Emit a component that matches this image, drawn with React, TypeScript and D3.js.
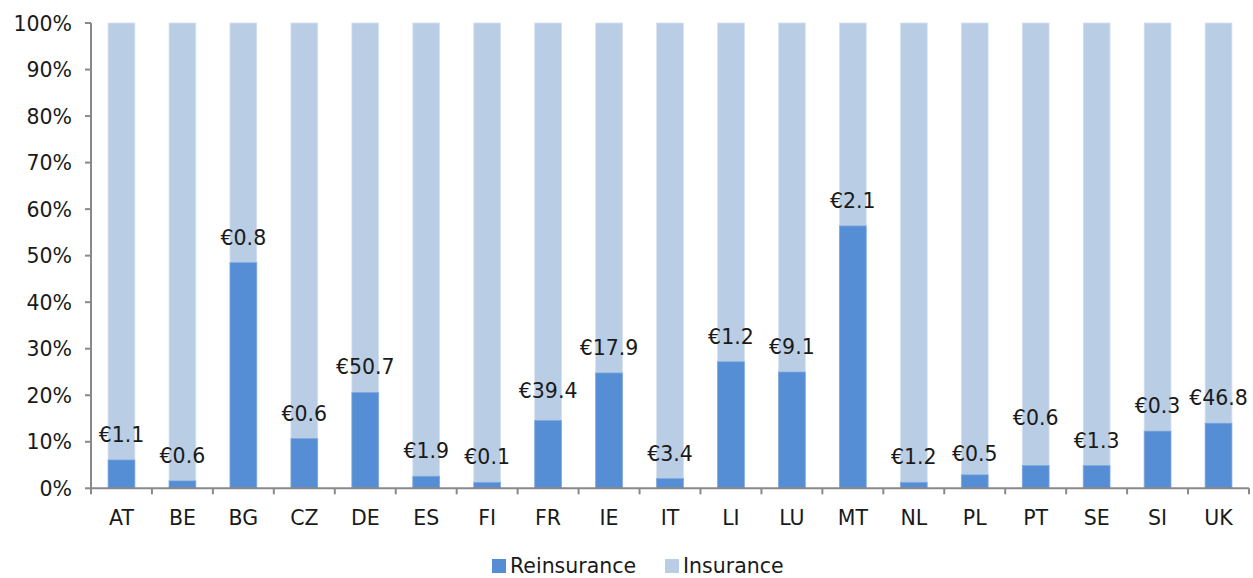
import React from "react";
import * as d3 from "d3";

const categories = ["AT","BE","BG","CZ","DE","ES","FI","FR","IE","IT","LI","LU","MT","NL","PL","PT","SE","SI","UK"];
const reinsuranceShare = [6.1,1.6,48.5,10.7,20.6,2.6,1.3,14.6,24.8,2.1,27.2,25.0,56.4,1.3,2.9,4.9,4.9,12.3,14.0];
const totalLabels = [1.1,0.6,0.8,0.6,50.7,1.9,0.1,39.4,17.9,3.4,1.2,9.1,2.1,1.2,0.5,0.6,1.3,0.3,46.8];
const yTicks = [0,10,20,30,40,50,60,70,80,90,100];
const seriesNames = ["Reinsurance","Insurance"];
// manual label nudges (px) seen in the original chart
const labelNudge: Record<string, number> = { FR: 4, PL: -4, PT: 23 };

const W = 1253, H = 578;
const left = 91, right = 1249, top = 23, bottom = 488.3;
const DARK = "#558ED5", LIGHT = "#B9CDE5", AXIS = "#898989", TXT = "#1a1a1a";
const FONT = "'DejaVu Sans', Verdana, sans-serif";

export default function App() {
  const x = d3.scaleBand<string>().domain(categories).range([left, right]).paddingInner(0.56).paddingOuter(0.28);
  const y = d3.scaleLinear().domain([0, 100]).range([bottom, top]);
  const bw = x.bandwidth();
  const ticksX = d3.range(categories.length + 1).map(i => left + i * (right - left) / categories.length);
  const legendY = 573;

  return (
    <svg width={W} height={H} style={{ position: "absolute", left: 0, top: 0, background: "#fff" }} fontFamily={FONT}>
      {categories.map((c, i) => {
        const x0 = x(c)!;
        const r = reinsuranceShare[i];
        return (
          <g key={c}>
            <rect x={x0} y={y(100)} width={bw} height={y(r) - y(100)} fill={LIGHT} stroke="#D6E2F0" strokeWidth={0.8} />
            <rect x={x0} y={y(r)} width={bw} height={y(0) - y(r)} fill={DARK} stroke="#7FA9DE" strokeWidth={0.8} />
            <text x={x0 + bw / 2} y={y(r) - 18 - (labelNudge[c] || 0)} textAnchor="middle" fontSize={20.5} fill={TXT}>
              {"€" + totalLabels[i].toFixed(1)}
            </text>
            <text x={x0 + bw / 2} y={525} textAnchor="middle" fontSize={20.5} fill={TXT}>{c}</text>
          </g>
        );
      })}
      <line x1={left} x2={left} y1={top} y2={bottom} stroke={AXIS} strokeWidth={2} />
      <line x1={left} x2={right} y1={bottom} y2={bottom} stroke={AXIS} strokeWidth={2} />
      {yTicks.map(t => (
        <g key={t}>
          <line x1={left - 6} x2={left} y1={y(t)} y2={y(t)} stroke={AXIS} strokeWidth={2} />
          <text x={72} y={y(t) + 7.5} textAnchor="end" fontSize={20.5} fill={TXT}>{t + "%"}</text>
        </g>
      ))}
      {ticksX.map((tx, i) => (
        <line key={i} x1={tx} x2={tx} y1={bottom} y2={bottom + 6} stroke={AXIS} strokeWidth={2} />
      ))}
      <g>
        <rect x={492} y={legendY - 14} width={14} height={14} fill={DARK} />
        <text x={510} y={legendY} fontSize={20.5} fill={TXT}>{seriesNames[0]}</text>
        <rect x={665} y={legendY - 14} width={14} height={14} fill={LIGHT} />
        <text x={683} y={legendY} fontSize={20.5} fill={TXT}>{seriesNames[1]}</text>
      </g>
    </svg>
  );
}
